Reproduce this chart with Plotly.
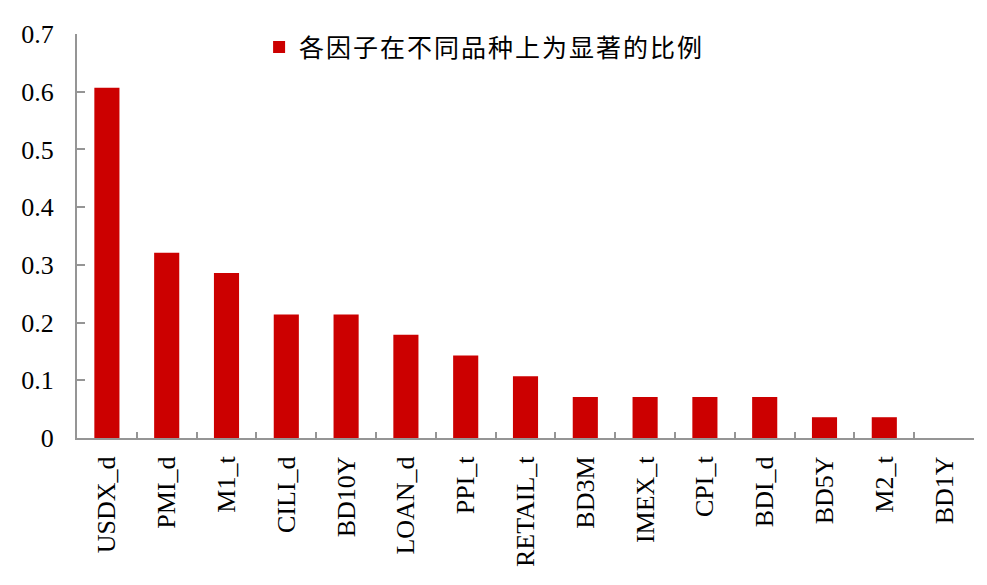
import plotly.graph_objects as go

categories = ["USDX_d", "PMI_d", "M1_t", "CILI_d", "BD10Y", "LOAN_d", "PPI_t",
              "RETAIL_t", "BD3M", "IMEX_t", "CPI_t", "BDI_d", "BD5Y", "M2_t", "BD1Y"]
values = [0.607, 0.321, 0.286, 0.214, 0.214, 0.179, 0.143,
          0.107, 0.071, 0.071, 0.071, 0.071, 0.036, 0.036, 0.0]
series_name = "各因子在不同品种上为显著的比例"
y_ticks = [0, 0.1, 0.2, 0.3, 0.4, 0.5, 0.6, 0.7]
y_tick_text = ["0", "0.1", "0.2", "0.3", "0.4", "0.5", "0.6", "0.7"]

SERIF = "Liberation Serif, Times New Roman, serif"
AXIS = "#959595"

fig = go.Figure()
fig.add_trace(go.Bar(x=categories, y=values,
                     name='<span style="letter-spacing:2px">' + series_name + '</span>',
                     marker=dict(color="#CC0000", line=dict(width=0))))

fig.update_layout(
    width=979, height=577,
    margin=dict(l=69, r=13, t=16, b=147, pad=0),
    plot_bgcolor="white", paper_bgcolor="white",
    bargap=0.58,
    showlegend=True,
    legend=dict(x=0.203, y=1.024, xanchor="left", yanchor="top",
                font=dict(family="Noto Sans CJK SC", size=25, color="black"),
                bgcolor="rgba(0,0,0,0)", itemwidth=30),
    xaxis=dict(showgrid=False, showline=True, linecolor=AXIS, linewidth=2,
               ticks="inside", ticklen=6, tickcolor=AXIS, tickwidth=2,
               tickson="boundaries", tickangle=-90,
               tickfont=dict(family=SERIF, size=26, color="black"),
               ticklabelstandoff=6),
    yaxis=dict(range=[0, 0.7], tickvals=y_ticks, ticktext=y_tick_text,
               showgrid=False, zeroline=False, showline=True, linecolor=AXIS,
               linewidth=2, ticks="inside", ticklen=8, tickcolor=AXIS, tickwidth=2,
               tickfont=dict(family=SERIF, size=26, color="black"),
               ticklabelstandoff=16),
)

fig.write_html("out.html")
